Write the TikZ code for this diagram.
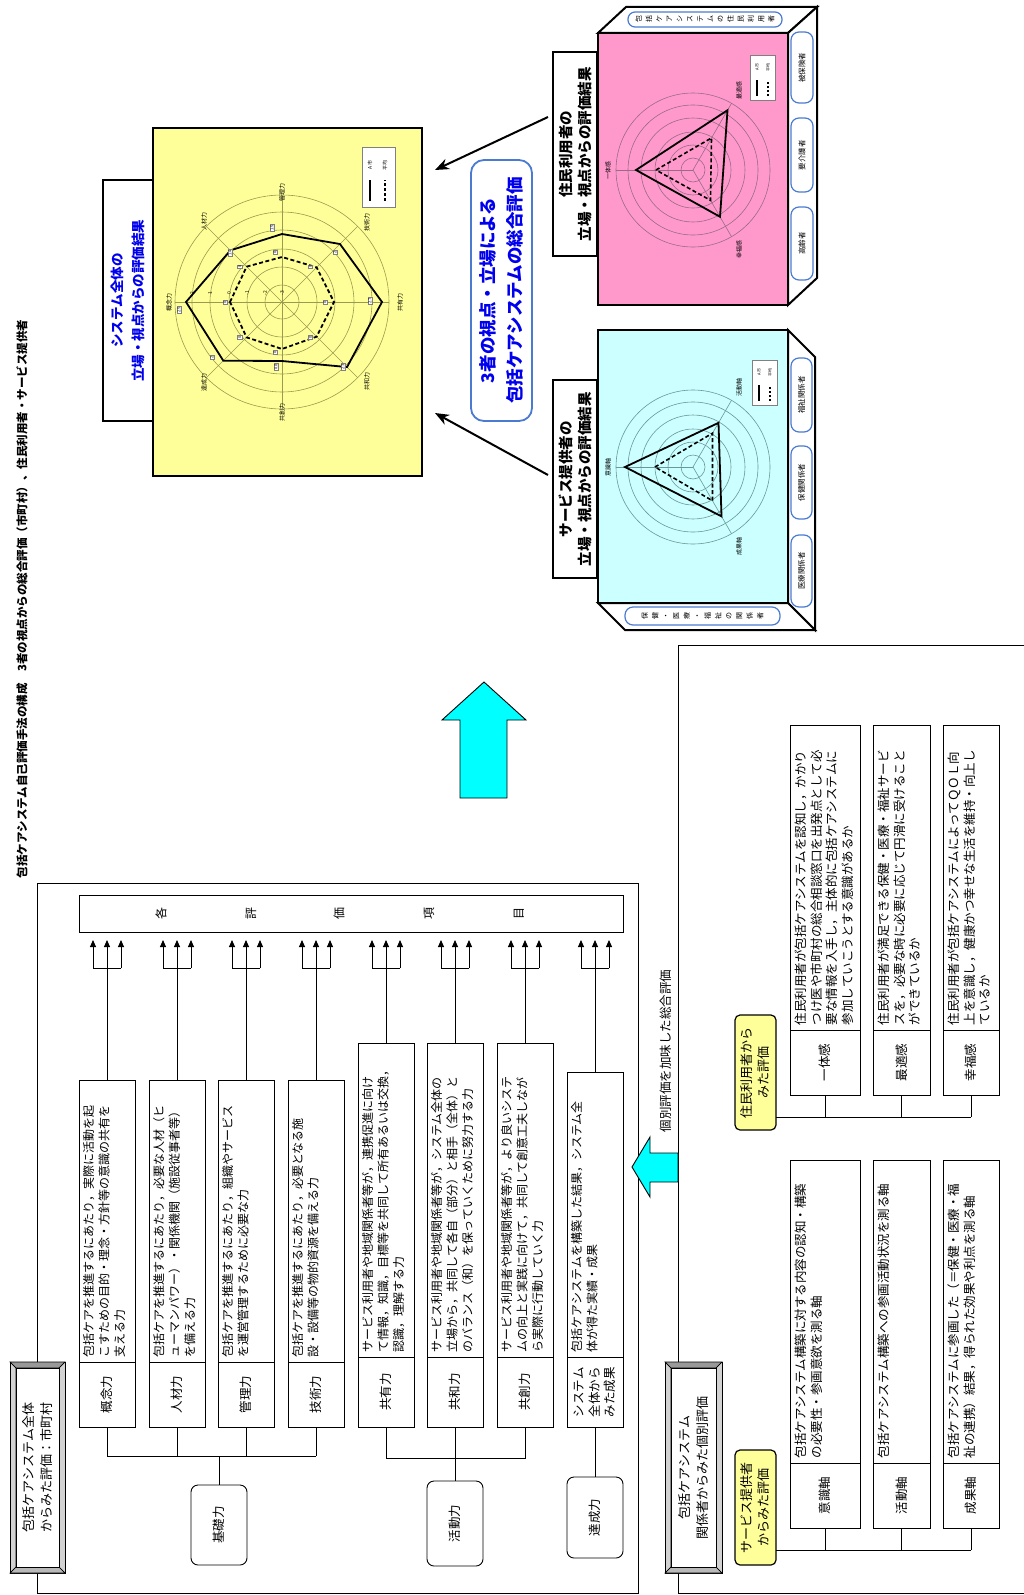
\documentclass[tikz,border=0pt]{standalone}
\usepackage{fontspec}
\setmainfont{Noto Sans CJK JP}
\usetikzlibrary{arrows.meta,calc}
\definecolor{yelfill}{HTML}{FFFF99}
\definecolor{pinkfill}{HTML}{FF99CC}
\definecolor{cyanfill}{HTML}{CCFFFF}
\definecolor{arrowcyan}{HTML}{00FFFF}
\definecolor{textblue}{HTML}{0000EE}
\definecolor{lineblue}{HTML}{4A7BD0}
\definecolor{yelgrid}{HTML}{9A9A50}
\definecolor{pinkgrid}{HTML}{9A6A88}
\definecolor{cyangrid}{HTML}{6A9898}
\newcommand\bevelbox[5]{%
  \draw[line width=0.8pt, fill=gray!35] (#2,-#3) rectangle (#4,-#5);
  \draw[line width=0.6pt, fill=gray!80] (#2,-#3) -- ({#2+6},{-#3-6}) -- ({#4-6},{-#3-6}) -- (#4,-#3) -- cycle;
  \draw[line width=0.6pt, fill=gray!55] (#2,-#5) -- ({#2+6},{-#5+6}) -- ({#4-6},{-#5+6}) -- (#4,-#5) -- cycle;
  \draw[line width=0.6pt] (#2,-#3) -- ({#2+6},{-#3-6}) -- ({#2+6},{-#5+6}) -- (#2,-#5);
  \draw[line width=0.6pt] (#4,-#3) -- ({#4-6},{-#3-6}) -- ({#4-6},{-#5+6}) -- (#4,-#5);
  \node[draw, line width=0.6pt, fill=white, minimum width={#4-#2-12}, minimum height={#5-#3-12}] (#1) at ({(#2+#4)/2},{-(#3+#5)/2}) {};
}
\begin{document}
\begin{tikzpicture}[x=1pt,y=1pt,
  every node/.style={inner sep=0pt,outer sep=0pt},
  rt/.style={rotate=90},
  ln/.style={line width=0.9pt},
  rect/.style={draw,line width=0.9pt,fill=white},
  tip/.style={-{Triangle[width=6pt,length=7pt]}},
  desc/.style={rotate=90,anchor=north west,align=left,font=\fontsize{12}{15.5}\selectfont},
  desc2/.style={rotate=90,anchor=north west,align=left,font=\fontsize{12.5}{15.5}\selectfont},
  nm/.style={rotate=90,align=center,font=\fontsize{12.5}{15.5}\selectfont},
  ylabel/.style={draw,line width=1.2pt,fill=yelfill,rounded corners=5},
  sidelab/.style={draw=lineblue,line width=1.2pt,rounded corners=8,fill=white},
  big3d/.style={line width=2pt,fill=white},
  hdr/.style={draw,line width=1.3pt,fill=white},
  val/.style={draw=gray,fill=white,line width=0.3pt,inner sep=0.6pt,font=\fontsize{4}{4}\selectfont,rotate=90},
  axl/.style={rotate=90,font=\fontsize{6}{6}\selectfont},
  legt/.style={rotate=90,font=\fontsize{5}{5}\selectfont},
  fatarrow/.style={line width=2pt,-{Stealth[length=14pt,width=11pt]}},
  cyanarrow/.style={line width=0.9pt,fill=arrowcyan}
]
\useasboundingbox (0,0) rectangle (1024,-1595);
\fill[white] (0,0) rectangle (1024,-1595);

% ---------- title ----------
\node[rt,anchor=west,font=\fontsize{11.5}{11.5}\selectfont\bfseries] (title) at (22,-878)
  {包括ケアシステム自己評価手法の構成　3者の視点からの総合評価（市町村）、住民利用者・サービス提供者};

% ---------- frame 1 ----------
\draw[ln] (37,-1362) -- (37,-883) -- (638,-883) -- (638,-1593) -- (37,-1593) -- (37,-1573);
\bevelbox{lab1}{10}{1362}{65}{1573}
\node[rt,align=center,font=\fontsize{13}{18}\selectfont] at (lab1) {包括ケアシステム全体\\からみた評価：市町村};

\node[rect,minimum width=544,minimum height=37,anchor=north west] (items) at (79,-895) {};
\node[rt,font=\fontsize{12}{12}\selectfont] (k1) at (161,-913.5) {各};
\node[rt,font=\fontsize{12}{12}\selectfont] (k2) at (251,-913.5) {評};
\node[rt,font=\fontsize{12}{12}\selectfont] (k3) at (339,-913.5) {価};
\node[rt,font=\fontsize{12}{12}\selectfont] (k4) at (429,-913.5) {項};
\node[rt,font=\fontsize{12}{12}\selectfont] (k5) at (519,-913.5) {目};

\foreach \i/\xl/\dt/\nt in {1/79/1080/1362, 2/149/1080/1362, 3/218/1080/1362, 4/288/1080/1362,
                              5/358/1043/1357, 6/427/1043/1357, 7/497/1043/1357, 8/567/1072/1357} {
  \node[rect,minimum width=56,minimum height={\nt-\dt},anchor=north west] (d\i) at (\xl,-\dt) {};
  \node[rect,minimum width=56,minimum height={1427-\nt},anchor=north west] (n\i) at (\xl,-\nt) {};
  \pgfmathsetmacro\c{\xl+28}
  \draw[ln] (d\i.north) -- (\c,-968);
  \draw[ln] ({\c-14},-968) -- ({\c+14},-968);
  \foreach \o in {-14,0,14} \draw[ln,tip] ({\c+\o},-968) -- ($(items.south -| {\c+\o},0)+(0,-8)$);
}

\node[desc] (t1) at ($(d1.south west)+(4,5)$) {包括ケアを推進するにあたり，実際に活動を起\\こすための目的・理念・方針等の意識の共有を\\支える力};
\node[desc] (t2) at ($(d2.south west)+(4,5)$) {包括ケアを推進するにあたり，必要な人材（ヒ\\ューマンパワー）・関係機関（施設従事者等）\\を備える力};
\node[desc] (t3) at ($(d3.south west)+(4,5)$) {包括ケアを推進するにあたり，組織やサービス\\を運営管理するために必要な力};
\node[desc] (t4) at ($(d4.south west)+(4,5)$) {包括ケアを推進するにあたり，必要となる施\\設・設備等の物的資源を備える力};
\node[desc] (t5) at ($(d5.south west)+(4,5)$) {サービス利用者や地域関係者等が，連携促進に向け\\て情報，知識，目標等を共同して所有あるいは交換，\\認識，理解する力};
\node[desc] (t6) at ($(d6.south west)+(4,5)$) {サービス利用者や地域関係者等が，システム全体の\\立場から，共同して各自（部分）と相手（全体）と\\のバランス（和）を保っていくために努力する力};
\node[desc] (t7) at ($(d7.south west)+(4,5)$) {サービス利用者や地域関係者等が，より良いシステ\\ムの向上と実践に向けて，共同して創意工夫しなが\\ら実際に行動していく力};
\node[desc] (t8) at ($(d8.south west)+(4,5)$) {包括ケアシステムを構築した結果，システム全\\体が得た実績・成果};

\node[nm] (m1) at (n1) {概念力};
\node[nm] (m2) at (n2) {人材力};
\node[nm] (m3) at (n3) {管理力};
\node[nm] (m4) at (n4) {技術力};
\node[nm] (m5) at (n5) {共有力};
\node[nm] (m6) at (n6) {共和力};
\node[nm] (m7) at (n7) {共創力};
\node[nm,align=left] (m8) at (n8) {システム\\全体から\\みた成果};

% groups
\coordinate (b1) at (219,-1456);
\foreach \i in {1,...,4} \draw[ln] (n\i.south) -- (n\i.south |- b1);
\draw[ln] (n1.south |- b1) -- (n4.south |- b1);
\node[rect,rounded corners=7,minimum width=56,minimum height=80,anchor=north] (kiso) at (219,-1485) {};
\node[nm] at (kiso) {基礎力};
\draw[ln] (b1) -- (kiso.north);

\coordinate (b2) at (455,-1458);
\draw[ln] (n5.south) -- (n5.south |- b2) -- (n7.south |- b2) -- (n7.south);
\node[rect,rounded corners=7,minimum width=56,minimum height=85,anchor=north] (katsu) at (455,-1481) {};
\node[nm] at (katsu) {活動力};
\draw[ln] (n6.south) -- (katsu.north);

\node[rect,rounded corners=7,minimum width=56,minimum height=81,anchor=north] (tassei) at (595,-1477) {};
\node[nm] at (tassei) {達成力};
\draw[ln] (n8.south) -- (tassei.north);

% big cyan arrow
\draw[cyanarrow] (484,-682) -- (526,-720) -- (507,-720) -- (507,-798) -- (460,-798) -- (460,-720) -- (442,-720) -- cycle;

% ---------- frame 2 ----------
\draw[ln] (678,-1362) -- (678,-645) -- (1024,-645);
\draw[ln] (678,-1573) -- (678,-1593) -- (1024,-1593);
\bevelbox{lab2}{665}{1362}{722}{1573}
\node[rt,align=center,font=\fontsize{13}{18}\selectfont] at (lab2) {包括ケアシステム\\関係者からみた個別評価};
\draw[cyanarrow] (632,-1167) -- (650,-1137) -- (650,-1153) -- (678,-1153) -- (678,-1182) -- (650,-1182) -- (650,-1197) -- cycle;
\node[rt,anchor=west,font=\fontsize{12.5}{12.5}\selectfont] (kobetsu) at (666,-1132) {個別評価を加味した総合評価};

% resident group
\node[ylabel,minimum width=41,minimum height=115,anchor=north west] (jl) at (735,-1015) {};
\node[rt,align=center,font=\fontsize{13}{17}\selectfont] at (jl) {住民利用者から\\みた評価};
\foreach \i/\xl/\w in {1/790/70, 2/873/57, 3/943/56} {
  \node[rect,minimum width=\w,minimum height=305,anchor=north west] (rd\i) at (\xl,-725) {};
  \node[rect,minimum width=\w,minimum height=65,anchor=north west] (rn\i) at (\xl,-1030) {};
}
\coordinate (jb) at (776,-1117);
\draw[ln] (jl.east |- jb) -- (rn3.south |- jb);
\foreach \i in {1,2,3} \draw[ln] (rn\i.south) -- (rn\i.south |- jb);
\node[desc2] at ($(rd1.south west)+(5,5)$) {住民利用者が包括ケアシステムを認知し，かかり\\つけ医や市町村の総合相談窓口を出発点として必\\要な情報を入手し，主体的に包括ケアシステムに\\参加していこうとする意識があるか};
\node[desc2] at ($(rd2.south west)+(5,5)$) {住民利用者が満足できる保健・医療・福祉サービ\\スを，必要な時に必要に応じて円滑に受けること\\ができているか};
\node[desc2] at ($(rd3.south west)+(5,5)$) {住民利用者が包括ケアシステムによってＱＯＬ向\\上を意識し，健康かつ幸せな生活を維持・向上し\\ているか};
\node[nm] at (rn1) {一体感};
\node[nm] at (rn2) {最適感};
\node[nm] at (rn3) {幸福感};

% service group
\node[ylabel,minimum width=41,minimum height=115,anchor=north west] (sl) at (735,-1450) {};
\node[rt,align=center,font=\fontsize{13}{17}\selectfont] at (sl) {サービス提供者\\からみた評価};
\foreach \i/\xl/\w in {1/790/70, 2/873/57, 3/943/56} {
  \node[rect,minimum width=\w,minimum height=303,anchor=north west] (sd\i) at (\xl,-1160) {};
  \node[rect,minimum width=\w,minimum height=65,anchor=north west] (sn\i) at (\xl,-1463) {};
}
\coordinate (sb) at (776,-1550);
\draw[ln] (sl.east |- sb) -- (sn3.south |- sb);
\foreach \i in {1,2,3} \draw[ln] (sn\i.south) -- (sn\i.south |- sb);
\node[desc2] at ($(sd1.south west)+(5,5)$) {包括ケアシステム構築に対する内容の認知・構築\\の必要性・参画意欲を測る軸};
\node[desc2] at ($(sd2.south west)+(5,5)$) {包括ケアシステム構築への参画活動状況を測る軸};
\node[desc2] at ($(sd3.south west)+(5,5)$) {包括ケアシステムに参画した（＝保健・医療・福\\祉の連携）結果，得られた効果や利点を測る軸};
\node[nm] at (sn1) {意識軸};
\node[nm] at (sn2) {活動軸};
\node[nm] at (sn3) {成果軸};

% ---------- yellow chart ----------
\node[draw,line width=1.6pt,fill=yelfill,minimum width=269,minimum height=348,anchor=north west] (ybox) at (153,-128) {};
\node[hdr,minimum width=50,minimum height=241,anchor=north west] (ylab) at (103,-180) {};
\node[rt,align=center,text=textblue,font=\fontsize{13.5}{21}\selectfont\bfseries] at (ylab) {システム全体の\\立場・視点からの評価結果};
\begin{scope}[shift={(282,-302)}]
  \foreach \r in {17,35,53,72,90,107} \draw[yelgrid,line width=0.6pt] (0,0) circle[radius=\r];
  \foreach \a in {0,45,...,315} \draw[yelgrid,line width=0.6pt] (0,0) -- (\a:107);
  \draw[line width=1.8pt,dash pattern=on 4pt off 2.5pt] (180:52) -- (135:50) -- (90:45) -- (45:49) -- (0:52) -- (-45:49) -- (-90:47) -- (-135:50) -- cycle;
  \draw[line width=1.8pt] (180:96) -- (135:73) -- (90:68) -- (45:82) -- (0:100) -- (-45:92) -- (-90:59) -- (-135:83) -- cycle;
  \node[axl] at (180:113) {概念力};
  \node[axl] at (134:112) {人材力};
  \node[axl] at (90:110) {管理力};
  \node[axl] at (43:116) {技術力};
  \node[axl] at (0:118) {共有力};
  \node[axl] at (-43:116) {共和力};
  \node[axl] at (-90:110) {共創力};
  \node[axl] at (-134:112) {達成力};
  \node[val] at (-103,-8) {2.5};
  \node[val] at (-52,49) {1.4};
  \node[val] at (-10,74) {1.5};
  \node[val] at (53,50) {2};
  \node[val] at (88,1) {2.7};
  \node[val] at (61,-65) {2.3};
  \node[val] at (-6,-65) {0.8};
  \node[val] at (-70,-55) {2};
  \foreach \a in {0,45,...,315} \node[val] at ($(\a:50)+(-7,0)$) {0};
  \foreach \r/\v in {0/-3,17/-2,35/-1,53/0,72/1,90/2} \node[rt,font=\fontsize{5}{5}\selectfont] at (-\r,9) {\v};
\end{scope}
\node[draw=gray,fill=white,line width=0.5pt,minimum width=33,minimum height=60,anchor=north west] (yleg) at (362,-147) {};
\draw[line width=1.5pt] (370,-201) -- (370,-180);
\draw[line width=1.5pt,dash pattern=on 3pt off 2pt] (385,-201) -- (385,-180);
\node[legt] at (370,-165) {A市};
\node[legt] at (385,-165) {平均};

% blue rounded total box
\node[draw=lineblue,line width=1.8pt,rounded corners=13,fill=white,minimum width=61,minimum height=261,anchor=north west] (total) at (471,-160) {};
\node[rt,align=center,text=textblue,font=\fontsize{17.5}{27}\selectfont\bfseries] at (total) {3者の視点・立場による\\包括ケアシステムの総合評価};

% ---------- pink 3D box ----------
\draw[big3d] (598,-33) -- (626,-7) -- (817,-7) -- (788,-33) -- cycle;
\draw[big3d] (788,-33) -- (817,-7) -- (817,-278) -- (788,-305) -- cycle;
\node[draw,line width=2.2pt,fill=pinkfill,minimum width=190,minimum height=272,anchor=north west] (pbox) at (598,-33) {};
\node[sidelab,rounded corners=7,minimum width=154,minimum height=15,anchor=north west] (ptop) at (628,-12) {};
\node[rt,align=center,font=\fontsize{7}{10.2}\selectfont] at (ptop) {包\\括\\ケ\\ア\\シ\\ス\\テ\\ム\\の\\住\\民\\利\\用\\者};
\node[sidelab,minimum width=22,minimum height=71,anchor=north west] (p1) at (791,-32) {};
\node[sidelab,minimum width=22,minimum height=74,anchor=north west] (p2) at (791,-118) {};
\node[sidelab,minimum width=22,minimum height=73,anchor=north west] (p3) at (791,-207) {};
\node[rt,font=\fontsize{7.5}{7.5}\selectfont] at (p1) {被保険者};
\node[rt,font=\fontsize{7.5}{7.5}\selectfont] at (p2) {要介護者};
\node[rt,font=\fontsize{7.5}{7.5}\selectfont] at (p3) {高齢者};
\node[hdr,minimum width=44,minimum height=204,anchor=north west] (plab) at (553,-52) {};
\node[rt,align=center,font=\fontsize{14.5}{19}\selectfont\bfseries] at (plab) {住民利用者の\\立場・視点からの評価結果};
\begin{scope}[shift={(693,-170)}]
  \foreach \r in {12,25,38,52,65,77} \draw[pinkgrid,line width=0.6pt] (0,0) circle[radius=\r];
  \foreach \a in {180,60,-60} \draw[pinkgrid,line width=0.6pt] (0,0) -- (\a:77);
  \draw[line width=1.6pt,dash pattern=on 4pt off 2.5pt] (180:37) -- (60:37) -- (-60:35) -- cycle;
  \draw[line width=1.8pt] (180:57) -- (60:69) -- (-60:54) -- cycle;
  \node[axl] at (180:85) {一体感};
  \node[axl] at (60:92) {最適感};
  \node[axl] at (-60:92) {幸福感};
\end{scope}
\node[draw=gray,fill=white,line width=0.5pt,minimum width=25,minimum height=45,anchor=north west] (pleg) at (750,-55) {};
\draw[line width=1.3pt] (757,-96) -- (757,-80);
\draw[line width=1.3pt,dash pattern=on 2.5pt off 1.5pt] (768,-96) -- (768,-80);
\node[legt,font=\fontsize{4}{4}\selectfont] at (757,-67) {A市};
\node[legt,font=\fontsize{4}{4}\selectfont] at (768,-67) {平均};

% ---------- cyan 3D box ----------
\draw[big3d] (788,-330) -- (815,-357) -- (815,-630) -- (788,-603) -- cycle;
\draw[big3d] (598,-603) -- (625,-630) -- (815,-630) -- (788,-603) -- cycle;
\node[draw,line width=2.2pt,fill=cyanfill,minimum width=190,minimum height=273,anchor=north west] (cbox) at (598,-330) {};
\node[sidelab,rounded corners=8,minimum width=155,minimum height=18,anchor=north west] (cbot) at (625,-607) {};
\node[rt,align=center,font=\fontsize{7}{10.5}\selectfont] at (cbot) {保\\健\\・\\医\\療\\・\\福\\祉\\の\\関\\係\\者};
\node[sidelab,minimum width=21,minimum height=74,anchor=north west] (c1) at (791,-358) {};
\node[sidelab,minimum width=21,minimum height=73,anchor=north west] (c2) at (791,-446) {};
\node[sidelab,minimum width=21,minimum height=72,anchor=north west] (c3) at (791,-535) {};
\node[rt,font=\fontsize{7.5}{7.5}\selectfont] at (c1) {福祉関係者};
\node[rt,font=\fontsize{7.5}{7.5}\selectfont] at (c2) {保健関係者};
\node[rt,font=\fontsize{7.5}{7.5}\selectfont] at (c3) {医療関係者};
\node[hdr,minimum width=44,minimum height=198,anchor=north west] (clab) at (553,-380) {};
\node[rt,align=center,font=\fontsize{14.5}{19}\selectfont\bfseries] at (clab) {サービス提供者の\\立場・視点からの評価結果};
\begin{scope}[shift={(693,-467)}]
  \foreach \r in {12,25,38,52,65,77} \draw[cyangrid,line width=0.6pt] (0,0) circle[radius=\r];
  \foreach \a in {180,60,-60} \draw[cyangrid,line width=0.6pt] (0,0) -- (\a:77);
  \draw[line width=1.6pt,dash pattern=on 4pt off 2.5pt] (180:38) -- (60:39) -- (-60:39) -- cycle;
  \draw[line width=1.8pt] (180:68) -- (60:51) -- (-60:57) -- cycle;
  \node[axl] at (180:85) {意識軸};
  \node[axl] at (60:92) {活動軸};
  \node[axl] at (-60:92) {成果軸};
\end{scope}
\node[draw=gray,fill=white,line width=0.5pt,minimum width=25,minimum height=45,anchor=north west] (cleg) at (752,-360) {};
\draw[line width=1.3pt] (759,-401) -- (759,-385);
\draw[line width=1.3pt,dash pattern=on 2.5pt off 1.5pt] (770,-401) -- (770,-385);
\node[legt,font=\fontsize{4}{4}\selectfont] at (759,-372) {A市};
\node[legt,font=\fontsize{4}{4}\selectfont] at (770,-372) {平均};

% arrows to system result
\draw[fatarrow] ($(plab.west |- 0,-117)+(-5,0)$) -- ($(ybox.east |- 0,-170)+(13,0)$);
\draw[fatarrow] ($(clab.west |- 0,-475)+(-5,0)$) -- ($(ybox.east |- 0,-413)+(13,0)$);
\end{tikzpicture}
\end{document}
